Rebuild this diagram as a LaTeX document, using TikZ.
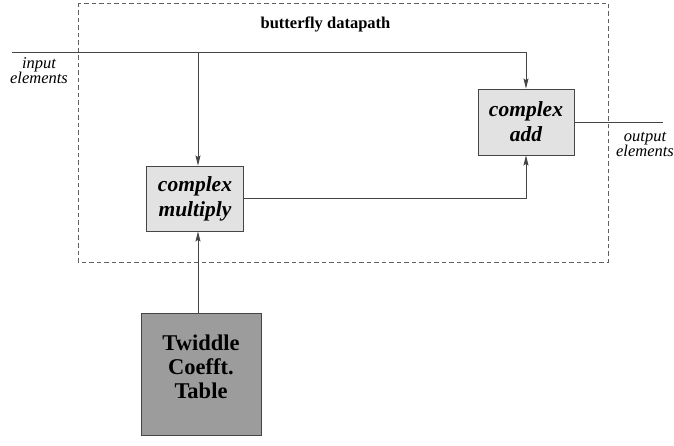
\documentclass[tikz,border=0pt]{standalone}
\usepackage{fontspec}
\setmainfont{Liberation Serif}
\usetikzlibrary{arrows.meta}
\definecolor{wire}{HTML}{454545}
\definecolor{lightfill}{HTML}{E2E2E2}
\definecolor{darkfill}{HTML}{9C9C9C}
\tikzset{
  wireline/.style={draw=wire, line width=0.9pt},
  arrowline/.style={wireline, -{Stealth[length=10pt,width=5pt,inset=1.5pt]}},
  unit/.style={draw=wire, line width=0.9pt, fill=lightfill, align=center,
    inner sep=0pt, font=\fontsize{21.5}{25}\selectfont\bfseries\itshape},
  tablebox/.style={draw=wire, line width=0.9pt, fill=darkfill, inner sep=0pt},
  tabletext/.style={align=center, inner sep=0pt,
    font=\fontsize{22.5}{24}\selectfont\bfseries},
  portlabel/.style={align=center, font=\fontsize{16.5}{15}\selectfont\itshape},
}
\begin{document}
\begin{tikzpicture}[x=1pt, y=-1pt]
  \useasboundingbox (0,0) rectangle (674,446);

  % datapath boundary
  \draw[draw=wire!85, line width=0.8pt, dash pattern=on 4.5pt off 3pt]
    (78,3) rectangle (608,262);
  \node[font=\fontsize{16.5}{20}\selectfont\bfseries] (title) at (325.5,24) {butterfly datapath};

  % functional units
  \node[unit, minimum width=97pt, minimum height=65pt] (mult) at (195,198.5) {complex\\multiply};
  \node[unit, minimum width=96pt, minimum height=66pt] (add) at (526,122) {complex\\add};

  % twiddle coefficient table, text set a little above the box centre
  \node[tablebox, minimum width=120pt, minimum height=122pt] (tw) at (201,374) {};
  \node[tabletext] (twtext) at (201,367) {Twiddle\\Coefft.\\Table};

  % port labels
  \node[portlabel] (inlbl) at (39,71) {input\\elements};
  \node[portlabel] (outlbl) at (645,144) {output\\elements};

  % wiring
  \coordinate (in0) at (12,52);
  \coordinate (br) at (198,52);
  \coordinate (out0) at (663,120);
  \draw[arrowline] (in0) -| (add.north);
  \draw[arrowline] (br) -- (br |- mult.north);
  \draw[arrowline] (mult.east) -| (add.south);
  \draw[arrowline] (tw.north -| br) -- (br |- mult.south);
  \draw[wireline] (add.east) -- (add.east -| out0);
\end{tikzpicture}
\end{document}
